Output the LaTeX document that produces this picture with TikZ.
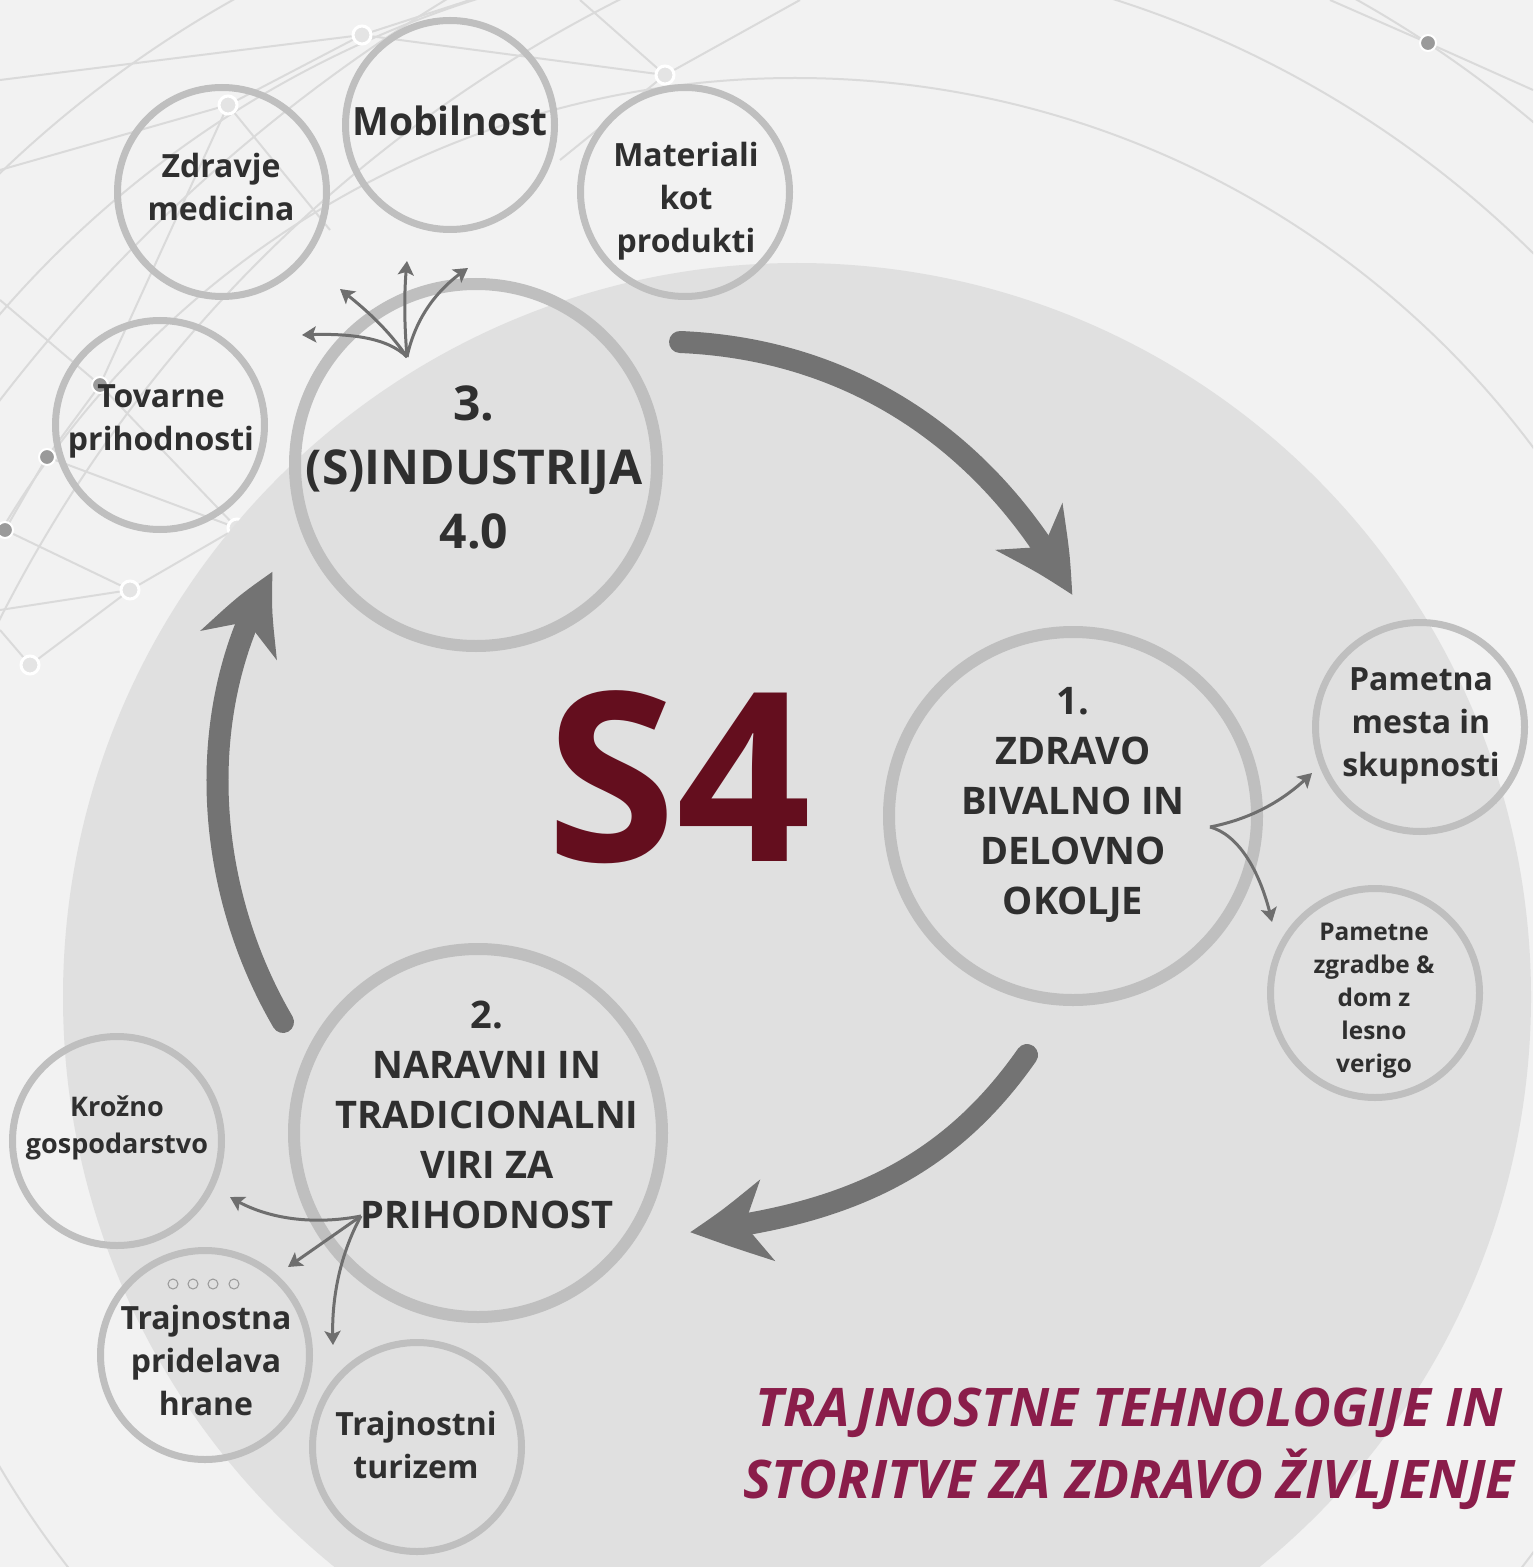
\documentclass[tikz,border=0pt]{standalone}
\usepackage{fontspec}
\setmainfont{Open Sans}
\usetikzlibrary{arrows.meta,bending}
\definecolor{bgc}{HTML}{F2F2F2}
\definecolor{diskc}{HTML}{E0E0E0}
\definecolor{ringc}{HTML}{BFBFBF}
\definecolor{arrc}{HTML}{737373}
\definecolor{fanc}{HTML}{6E6E6E}
\definecolor{txtc}{HTML}{2F2F2F}
\definecolor{s4c}{HTML}{640E1E}
\definecolor{titlec}{HTML}{8A1D4A}
\definecolor{linec}{HTML}{DADADA}
\definecolor{dotc}{HTML}{E4E4E4}
\definecolor{darkdotc}{HTML}{9A9A9A}
\begin{document}
\begin{tikzpicture}[x=0.5pt,y=-0.5pt,
  ringbig/.style={circle,draw=ringc,line width=6pt,inner sep=0pt,outer sep=0pt,minimum size=184pt},
  ringsmall/.style={circle,draw=ringc,line width=3.5pt,inner sep=0pt,outer sep=0pt,minimum size=104.5pt},
  bigtxt/.style={align=center,text=txtc,font=\bfseries\fontsize{19pt}{25pt}\selectfont},
  smalltxt/.style={align=center,text=txtc,font=\bfseries\fontsize{16pt}{21.5pt}\selectfont},
  cyclearrow/.style={draw=arrc,line width=11pt,line cap=round,-{Stealth[length=40pt,width=40pt,inset=12pt,bend]}},
  fanarrow/.style={draw=fanc,line width=1.5pt,-{Stealth[length=7pt,width=8pt,inset=1.5pt]}},
  bgline/.style={draw=linec,line width=1pt},
  lightdot/.style={circle,fill=dotc,draw=white,line width=1.5pt,minimum size=9pt,inner sep=0pt},
  darkdot/.style={circle,fill=darkdotc,draw=white,line width=1pt,minimum size=8pt,inner sep=0pt},
  icon/.style={circle,draw=ringc!80!black,line width=0.5pt,minimum size=5pt,inner sep=0pt}
]
\useasboundingbox (0,0) rectangle (1533,1567);
\clip (0,0) rectangle (1533,1567);
\fill[bgc] (0,0) rectangle (1533,1567);

% background arcs and network
\draw[bgline] (795,1000) circle[radius=461pt];
\draw[bgline] (795,1000) circle[radius=525pt];
\draw[bgline] (795,1000) circle[radius=573.5pt];
\draw[bgline] (1300,1400) circle[radius=820pt];
\draw[bgline] (1250,1250) circle[radius=700pt];
\coordinate (n1) at (362,35);
\coordinate (n2) at (228,105);
\coordinate (n3) at (665,75);
\coordinate (n4) at (100,385);
\coordinate (n5) at (47,457);
\coordinate (n6) at (5,530);
\coordinate (n7) at (237,528);
\coordinate (n8) at (130,590);
\coordinate (n9) at (30,665);
\coordinate (n10) at (1428,43);
\draw[bgline] (n1) -- (n2) (n1) -- (n3) (n1) -- (470,0) (n1) -- (0,80)
  (n2) -- (0,170) (n2) -- (n4) (n2) -- (330,230) (n4) -- (n5) (n5) -- (n6)
  (n5) -- (n7) (n4) -- (n7) (n7) -- (n8) (n8) -- (n6) (n8) -- (n9)
  (n8) -- (0,610) (n9) -- (0,630) (n3) -- (800,0) (n3) -- (580,0)
  (n3) -- (560,160) (n4) -- (0,300) (n10) -- (1330,0) (n10) -- (1533,90);
\node[lightdot] at (n1) {};
\node[lightdot] at (n2) {};
\node[lightdot] at (n3) {};
\node[darkdot] at (n4) {};
\node[darkdot] at (n5) {};
\node[darkdot] at (n6) {};
\node[lightdot] at (n7) {};
\node[lightdot] at (n8) {};
\node[lightdot] at (n9) {};
\node[darkdot] at (n10) {};

% big disk
\fill[diskc] (797,997) circle[radius=367pt];

% main circles
\node[ringbig,minimum size=181pt] (c3) at (476,465) {};
\node[ringbig] (c1) at (1073,816) {};
\node[ringbig] (c2) at (478,1133) {};

% small circles
\node[ringsmall] (zdr) at (222,192) {};
\node[ringsmall] (mob) at (450,125) {};
\node[ringsmall] (mat) at (685,192) {};
\node[ringsmall] (tov) at (160,425) {};
\node[ringsmall] (pmes) at (1420,727) {};
\node[ringsmall] (pzgr) at (1375,993) {};
\node[ringsmall] (kro) at (117,1141) {};
\node[ringsmall] (tph) at (205,1355) {};
\node[ringsmall] (ttu) at (417,1447) {};

% icons
\node[icon] (i1) at (173,1284) {};
\node[icon] (i2) at (193,1284) {};
\node[icon] (i3) at (213,1284) {};
\node[icon] (i4) at (234,1284) {};

% cycle arrows
\coordinate (a3s) at (680,342);
\coordinate (a3e) at (1072,595);
\coordinate (a1s) at (1027,1055);
\coordinate (a1e) at (690,1232);
\coordinate (a2s) at (283,1022);
\coordinate (a2e) at (273,572);
\draw[cyclearrow] (a3s) .. controls (870,350) and (1000,460) .. (a3e);
\draw[cyclearrow] (a1s) .. controls (950,1165) and (850,1215) .. (a1e);
\draw[cyclearrow] (a2s) .. controls (200,880) and (195,700) .. (a2e);

% fan arrows from circle 3
\coordinate (f3) at (407,357);
\coordinate (f3a) at (302,335);
\coordinate (f3b) at (340,289);
\coordinate (f3c) at (407,261);
\coordinate (f3d) at (468,268);
\draw[fanarrow] (f3) .. controls (385,335) and (340,333) .. (f3a);
\draw[fanarrow] (f3) .. controls (385,325) and (360,305) .. (f3b);
\draw[fanarrow] (f3) .. controls (404,320) and (404,290) .. (f3c);
\draw[fanarrow] (f3) .. controls (415,320) and (435,290) .. (f3d);

% fan arrows from circle 1
\coordinate (f1) at (1210,827);
\coordinate (f1a) at (1312,773);
\coordinate (f1b) at (1272,922);
\draw[fanarrow] (f1) .. controls (1245,820) and (1280,805) .. (f1a);
\draw[fanarrow] (f1) .. controls (1240,835) and (1262,875) .. (f1b);

% fan arrows from circle 2
\coordinate (f2) at (361,1216);
\coordinate (f2a) at (230,1197);
\coordinate (f2b) at (288,1267);
\coordinate (f2c) at (333,1345);
\draw[fanarrow] (f2) .. controls (320,1224) and (270,1222) .. (f2a);
\draw[fanarrow] (f2) -- (f2b);
\draw[fanarrow] (f2) .. controls (345,1245) and (330,1290) .. (f2c);

% texts
\node[bigtxt,font=\bfseries\fontsize{24pt}{32pt}\selectfont] (t3) at (474,467) {3.\\(S)INDUSTRIJA\\4.0};
\node[bigtxt] (t1) at (1073,805) {1.\\ZDRAVO\\BIVALNO IN\\DELOVNO\\OKOLJE};
\node[bigtxt] (t2) at (487,1115) {2.\\NARAVNI IN\\TRADICIONALNI\\VIRI ZA\\PRIHODNOST};

\node[smalltxt] (tzdr) at (221,187) {Zdravje\\medicina};
\node[smalltxt,font=\bfseries\fontsize{19.5pt}{24pt}\selectfont] (tmob) at (450,121) {Mobilnost};
\node[smalltxt] (tmat) at (686,201) {Materiali\\kot\\produkti};
\node[smalltxt] (ttov) at (161,421) {Tovarne\\prihodnosti};
\node[smalltxt] (tpmes) at (1421,726) {Pametna\\mesta in\\skupnosti};
\node[smalltxt,font=\bfseries\fontsize{12.2pt}{16.5pt}\selectfont] (tpzgr) at (1374,1001) {Pametne\\zgradbe \&\\dom z\\lesno\\verigo};
\node[smalltxt,font=\bfseries\fontsize{13.5pt}{18.5pt}\selectfont] (tkro) at (117,1128) {Krožno\\gospodarstvo};
\node[smalltxt] (ttph) at (206,1360) {Trajnostna\\pridelava\\hrane};
\node[smalltxt] (tttu) at (416,1445) {Trajnostni\\turizem};

\node[text=s4c,font=\bfseries\fontsize{118pt}{118pt}\selectfont,inner sep=0pt] (s4) at (679,777) {S4};

\node[align=center,text=titlec,font=\bfseries\itshape\fontsize{26.6pt}{36pt}\selectfont] (title) at (1129,1449) {TRAJNOSTNE TEHNOLOGIJE IN\\STORITVE ZA ZDRAVO ŽIVLJENJE};
\end{tikzpicture}
\end{document}
